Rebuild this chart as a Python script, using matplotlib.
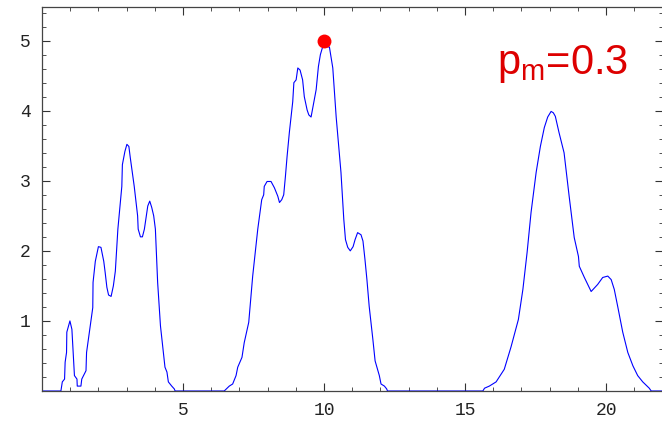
import matplotlib.pyplot as plt
from matplotlib.ticker import MultipleLocator

# density curve
x = [0.0, 0.67, 0.72, 0.80, 0.82, 0.87, 0.88, 0.99, 1.06, 1.15, 1.24, 1.25, 1.38, 1.41,
     1.56, 1.58, 1.80, 1.81, 1.89, 2.00, 2.09, 2.19, 2.24, 2.30, 2.36, 2.45, 2.53, 2.60,
     2.69, 2.83, 2.85, 2.94, 3.01, 3.08, 3.13, 3.27, 3.39, 3.41, 3.49, 3.56, 3.63, 3.70,
     3.75, 3.82, 3.89, 3.96, 4.02, 4.10, 4.20, 4.36, 4.43, 4.48, 4.60, 4.69, 4.72,
     6.46, 6.64, 6.76, 6.88, 6.94, 7.09, 7.17, 7.33, 7.47, 7.65, 7.79, 7.86, 7.88, 7.98,
     8.12, 8.24, 8.36, 8.42, 8.50, 8.57, 8.63, 8.69, 8.77, 8.89, 8.93, 9.01, 9.07, 9.15,
     9.24, 9.30, 9.40, 9.46, 9.54, 9.60, 9.72, 9.80, 9.87, 9.95, 10.19, 10.31, 10.43,
     10.60, 10.70, 10.76, 10.84, 10.93, 11.03, 11.10, 11.19, 11.31, 11.38, 11.45, 11.52,
     11.60, 11.73, 11.81, 11.88, 11.96, 12.02, 12.14, 12.22, 12.25,
     15.63, 15.69, 15.86, 16.10, 16.39, 16.63, 16.89, 17.05, 17.20, 17.34, 17.52, 17.67,
     17.81, 17.93, 18.05, 18.13, 18.20, 18.33, 18.51, 18.69, 18.87, 19.02, 19.05, 19.23,
     19.47, 19.70, 19.88, 20.06, 20.18, 20.29, 20.41, 20.59, 20.77, 20.95, 21.12, 21.30,
     21.53, 21.60, 22.0]
y = [0.0, 0.0, 0.13, 0.17, 0.41, 0.55, 0.84, 1.00, 0.88, 0.22, 0.17, 0.07, 0.07, 0.17,
     0.29, 0.55, 1.19, 1.55, 1.85, 2.06, 2.05, 1.85, 1.69, 1.48, 1.37, 1.35, 1.50, 1.71,
     2.31, 2.92, 3.23, 3.42, 3.52, 3.49, 3.33, 2.92, 2.50, 2.31, 2.20, 2.20, 2.31, 2.50,
     2.64, 2.71, 2.62, 2.50, 2.31, 1.55, 0.93, 0.34, 0.27, 0.13, 0.07, 0.03, 0.0,
     0.0, 0.07, 0.10, 0.22, 0.34, 0.48, 0.69, 0.98, 1.64, 2.31, 2.73, 2.80, 2.92, 2.99,
     2.99, 2.90, 2.78, 2.69, 2.73, 2.80, 3.06, 3.35, 3.69, 4.13, 4.40, 4.44, 4.61, 4.58,
     4.44, 4.20, 4.01, 3.94, 3.91, 4.04, 4.30, 4.63, 4.80, 4.91, 4.91, 4.61, 3.91,
     3.12, 2.45, 2.16, 2.05, 2.00, 2.06, 2.16, 2.26, 2.23, 2.14, 1.88, 1.59,
     1.21, 0.74, 0.43, 0.33, 0.22, 0.10, 0.07, 0.03, 0.0,
     0.0, 0.04, 0.07, 0.13, 0.31, 0.63, 1.02, 1.45, 1.98, 2.55, 3.12, 3.49,
     3.76, 3.91, 3.99, 3.97, 3.92, 3.69, 3.40, 2.78, 2.19, 1.92, 1.78, 1.62,
     1.42, 1.52, 1.62, 1.64, 1.59, 1.45, 1.21, 0.84, 0.55, 0.36, 0.22, 0.13,
     0.04, 0.0, 0.0]

peak_x = [10.0]
peak_y = [5.0]

fig = plt.figure(figsize=(6.62, 4.23), dpi=100)
ax = fig.add_axes([42 / 662, 32 / 423, 620.5 / 662, 384 / 423])

ax.plot(x, y, color='#0000ff', linewidth=0.8)
ax.plot(peak_x, peak_y, 'o', color='#ff0000', markersize=10, markeredgewidth=0)

ax.text(0.733, 0.826, 'p$_\\mathregular{m}$=0.3', transform=ax.transAxes,
        color='#dd0000', fontsize=30, family='Liberation Sans', va='baseline')

ax.set_xlim(0, 22)
ax.set_ylim(0, 5.48)
ax.xaxis.set_major_locator(MultipleLocator(5))
ax.xaxis.set_minor_locator(MultipleLocator(1))
ax.yaxis.set_major_locator(MultipleLocator(1))
ax.yaxis.set_minor_locator(MultipleLocator(0.2))
ax.set_xticks([5, 10, 15, 20])
ax.set_yticks([1, 2, 3, 4, 5])

ax.tick_params(which='both', direction='in', top=True, right=True, color='#333333',
               labelsize=13, pad=8)
ax.tick_params(which='major', length=6, width=0.8)
ax.tick_params(which='minor', length=3, width=0.6)
for lab in ax.get_xticklabels() + ax.get_yticklabels():
    lab.set_family('Liberation Mono')
    lab.set_color('#222222')

for s in ax.spines.values():
    s.set_color('#444444')
    s.set_linewidth(0.9)

fig.savefig('out.png', dpi=100)
